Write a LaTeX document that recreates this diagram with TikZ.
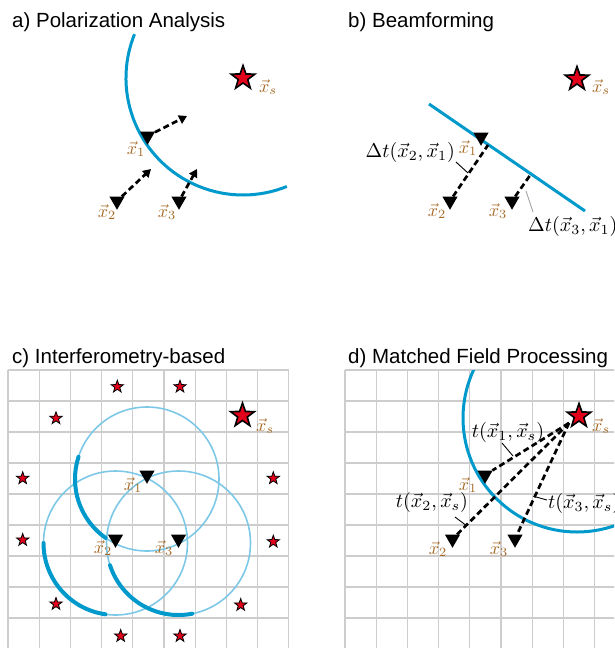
\documentclass[tikz,border=0pt]{standalone}
\usepackage{graphicx}
\usepackage{fontspec}
\newfontfamily\ttlfont{Liberation Sans}
\usetikzlibrary{shapes.geometric,arrows.meta}
\definecolor{lbl}{RGB}{166,106,38}
\definecolor{wave}{RGB}{0,153,204}
\definecolor{lwave}{RGB}{125,200,230}
\definecolor{gridc}{RGB}{205,205,205}
\definecolor{starred}{RGB}{226,0,26}
\definecolor{leadgray}{RGB}{160,160,160}
\newcommand{\lbsz}[1]{\scalebox{1.8}{#1}}
\newcommand{\mlsz}[1]{\scalebox{2.0}{#1}}
\tikzset{
  ttl/.style={anchor=base west, font=\ttlfont\fontsize{20.5}{23}\selectfont, text=black, inner sep=0pt},
  lab/.style={text=lbl, inner sep=0pt},
  mlab/.style={text=black, inner sep=0pt},
  rcv/.style={regular polygon, regular polygon sides=3, shape border rotate=180, fill=black, draw=none, minimum size=17.5pt, inner sep=0pt},
  bigstar/.style={star, star points=5, star point ratio=2.5, fill=starred, draw=black, line width=1.6pt, minimum size=25pt, inner sep=0pt},
  smallstar/.style={star, star points=5, star point ratio=2.5, fill=starred, draw=black, line width=0.8pt, minimum size=13pt, inner sep=0pt},
  dsh/.style={line width=2.7pt, dash pattern=on 6pt off 3.5pt},
  dsharrow/.style={dsh, -{Triangle[length=8pt,width=9pt]}},
  wavefront/.style={wave, line width=3pt},
  thickarc/.style={wave, line width=4pt, line cap=round},
  thincirc/.style={lwave, line width=1.6pt},
  gridline/.style={gridc, line width=1.3pt},
  leader/.style={black, line width=0.9pt},
  leaderg/.style={leadgray, line width=0.9pt}
}
\begin{document}
\begin{tikzpicture}[x=1pt,y=-1pt]
\useasboundingbox (0,0) rectangle (614,648);
\clip (0,0) rectangle (614,648);

% ---------------- a) Polarization Analysis
\node[ttl] (ta) at (12,27) {a) Polarization Analysis};
\node[bigstar] (sa) at (243,78) {};
\draw[wavefront] (sa) ++(158:117pt) arc[start angle=158, end angle=292, radius=117pt];
\node[lab] (lsa) at (268,87) {\lbsz{$\vec{x}_s$}};
\node[rcv] (a1) at (147.5,136) {};
\node[rcv] (a2) at (117,201) {};
\node[rcv] (a3) at (179,201) {};
\node[lab] (la1) at (136,149) {\lbsz{$\vec{x}_1$}};
\node[lab] (la2) at (107,212) {\lbsz{$\vec{x}_2$}};
\node[lab] (la3) at (167,212) {\lbsz{$\vec{x}_3$}};
\coordinate (ae1) at (187,116);
\coordinate (ae2) at (151,169);
\coordinate (ae3) at (197,169);
\draw[dsharrow] (a1) -- (ae1);
\draw[dsharrow] (a2) -- (ae2);
\draw[dsharrow] (a3) -- (ae3);

% ---------------- b) Beamforming
\node[ttl] (tb) at (348,27) {b) Beamforming};
\coordinate (wb1) at (429,104);
\coordinate (wb2) at (585,211);
\draw[wavefront] (wb1) -- (wb2);
\node[bigstar] (sb) at (577,79) {};
\node[lab] (lsb) at (601,87) {\lbsz{$\vec{x}_s$}};
\node[rcv] (b1) at (481,137) {};
\node[rcv] (b2) at (450,201) {};
\node[rcv] (b3) at (512,201) {};
\node[lab] (lb1) at (468,148) {\lbsz{$\vec{x}_1$}};
\node[lab] (lb2) at (437,211) {\lbsz{$\vec{x}_2$}};
\node[lab] (lb3) at (498,211) {\lbsz{$\vec{x}_3$}};
\coordinate (f2) at (488,145);
\coordinate (f3) at (531,174);
\draw[dsh] (b2) -- (f2);
\draw[dsh] (b3) -- (f3);
\node[mlab, anchor=east] (dt2) at (455,152) {\mlsz{$\Delta t(\vec{x}_2,\vec{x}_1)$}};
\coordinate (dt2a) at (456,162);
\coordinate (dt2b) at (468,173);
\draw[leader] (dt2a) -- (dt2b);
\node[mlab, anchor=west] (dt3) at (528,226) {\mlsz{$\Delta t(\vec{x}_3,\vec{x}_1)$}};
\coordinate (dt3a) at (533,212);
\coordinate (dt3b) at (526,191);
\draw[leaderg] (dt3a) -- (dt3b);

% ---------------- c) Interferometry-based
\node[ttl] (tc) at (12,363) {c) Interferometry-based};
\foreach \i in {0,...,9} \draw[gridline] ({8+31.2*\i},370) -- ({8+31.2*\i},650);
\foreach \j in {0,...,8} \draw[gridline] (8,{370+31*\j}) -- (289,{370+31*\j});
\coordinate (cc1) at (147,479);
\coordinate (cc2) at (115.5,543);
\coordinate (cc3) at (178.5,543);
\draw[thincirc] (cc1) circle[radius=72pt];
\draw[thincirc] (cc2) circle[radius=72pt];
\draw[thincirc] (cc3) circle[radius=72pt];
\draw[thickarc] (cc1) ++(162:72pt) arc[start angle=162, end angle=235, radius=72pt];
\draw[thickarc] (cc2) ++(180:72pt) arc[start angle=180, end angle=262, radius=72pt];
\draw[thickarc] (cc3) ++(198:72pt) arc[start angle=198, end angle=281, radius=72pt];
\foreach \p [count=\k] in {(117.3,386.7),(180,386.7),(56,418.3),(22.7,478.3),(273.3,478.3),(22.7,540),(273.3,541.7),(56,604),(240.7,605),(120.7,636),(180,636)}
  \node[smallstar] (cs\k) at \p {};
\node[bigstar] (sc) at (242.5,415.5) {};
\node[lab] (lsc) at (265,426) {\lbsz{$\vec{x}_s$}};
\node[rcv] (c1) at (147,475) {};
\node[rcv] (c2) at (115.5,539) {};
\node[rcv] (c3) at (178.5,539) {};
\node[lab] (lc1) at (133,485) {\lbsz{$\vec{x}_1$}};
\node[lab] (lc2) at (103,548) {\lbsz{$\vec{x}_2$}};
\node[lab] (lc3) at (164,548) {\lbsz{$\vec{x}_3$}};

% ---------------- d) Matched Field Processing
\node[ttl] (td) at (348,363) {d) Matched Field Processing};
\foreach \i in {0,...,9} \draw[gridline] ({345+31.2*\i},370) -- ({345+31.2*\i},650);
\foreach \j in {0,...,8} \draw[gridline] (345,{370+31*\j}) -- (620,{370+31*\j});
\coordinate (dsc) at (577,418);
\begin{scope}
  \clip (345,370) rectangle (614,648);
  \draw[wavefront] (dsc) circle[radius=114pt];
\end{scope}
\node[rcv] (d1) at (485,475) {};
\node[rcv] (d2) at (452.5,539) {};
\node[rcv] (d3) at (515,539) {};
\coordinate (dsrc) at (569,423);
\draw[dsh] (dsrc) -- (d1);
\draw[dsh] (dsrc) -- (d2);
\draw[dsh] (dsrc) -- (d3);
\node[bigstar] (sd) at (579,416) {};
\node[lab] (lsd) at (601,426) {\lbsz{$\vec{x}_s$}};
\node[lab] (ld1) at (468,485) {\lbsz{$\vec{x}_1$}};
\node[lab] (ld2) at (438,549) {\lbsz{$\vec{x}_2$}};
\node[lab] (ld3) at (499,549) {\lbsz{$\vec{x}_3$}};
\node[mlab] (t1) at (508,432) {\mlsz{$t(\vec{x}_1,\vec{x}_s)$}};
\coordinate (t1a) at (502,443);
\coordinate (t1b) at (513,456);
\draw[leader] (t1a) -- (t1b);
\node[mlab] (t2) at (432,502) {\mlsz{$t(\vec{x}_2,\vec{x}_s)$}};
\coordinate (t2a) at (455,517);
\coordinate (t2b) at (467,526);
\draw[leader] (t2a) -- (t2b);
\node[mlab, anchor=west] (t3) at (548,503) {\mlsz{$t(\vec{x}_3,\vec{x}_s)$}};
\coordinate (t3a) at (547,500);
\coordinate (t3b) at (536,497);
\draw[leader] (t3a) -- (t3b);
\end{tikzpicture}
\end{document}
